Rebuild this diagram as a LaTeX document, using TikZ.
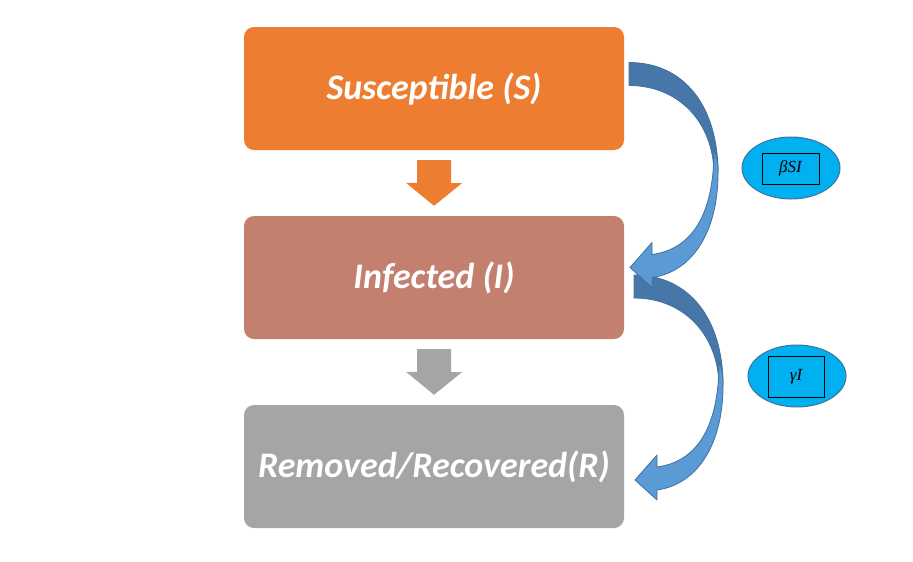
\documentclass[tikz,border=0pt]{standalone}
\usepackage{fontspec}
\setmainfont{Carlito}
\newfontfamily\ratefont{Liberation Serif}
\usetikzlibrary{shapes.geometric,calc}
\definecolor{sorange}{HTML}{ED7D31}
\definecolor{ibrown}{HTML}{C4806F}
\definecolor{rgrey}{HTML}{A5A5A5}
\definecolor{adark}{HTML}{4677A8}
\definecolor{alight}{HTML}{5B9BD5}
\definecolor{aedge}{HTML}{41719C}
\definecolor{ecyan}{HTML}{00B0F0}
\begin{document}
\begin{tikzpicture}[x=1pt,y=-1pt,
  box/.style={rounded corners=10pt, minimum width=380pt, minimum height=123pt, inner sep=0pt,
    font=\fontsize{36}{40}\selectfont\bfseries\itshape, text=white},
  darkband/.style={fill=adark, draw=aedge, line width=0.8pt, line join=round},
  lightband/.style={fill=alight, draw=aedge, line width=0.8pt, line join=round},
  rate/.style={ellipse, draw=aedge, fill=ecyan, line width=1pt, minimum width=98pt, minimum height=62pt},
  ratebox/.style={draw=black, line width=0.8pt, inner sep=0pt, font=\ratefont\itshape\fontsize{17}{19}\selectfont}
]
\useasboundingbox (0,0) rectangle (913,562);
\fill[white] (0,0) rectangle (913,562);

\node[box, fill=sorange] (S) at (434,88.5) {Susceptible (S)};
\node[box, fill=ibrown] (I) at (434,277.5) {Infected (I)};
\node[box, fill=rgrey] (R) at (434,466.5) {Removed/Recovered(R)};

% straight down arrows
\coordinate (a1) at ($(S.south)+(0,10)$);
\coordinate (t1) at ($(I.north)+(0,-10)$);
\coordinate (a2) at ($(I.south)+(0,10)$);
\coordinate (t2) at ($(R.north)+(0,-10)$);
\fill[sorange] (a1) ++(-17,0) -- ++(34,0) -- ++(0,23) -- ++(11,0) -- (t1) -- ++(-28,-23) -- ++(11,0) -- cycle;
\fill[rgrey] (a2) ++(-17,0) -- ++(34,0) -- ++(0,23) -- ++(11,0) -- (t2) -- ++(-28,-23) -- ++(11,0) -- cycle;

% curved arrow I -> R
\begin{scope}
\coordinate (c2s) at (634,275);
\coordinate (c2t) at (635,480);
\path[darkband] (c2s) .. controls (690,275) and (723,320) .. (723,385)
  -- (719,385) .. controls (718,335) and (684,298) .. (634,298) -- cycle;
\path[lightband] (719,362) .. controls (719,430) and (695,462) .. (657,467)
  -- (657,455) -- (c2t) -- (657,500) -- (657,490)
  .. controls (700,484) and (724,440) .. (723,382)
  .. controls (723,374) and (721,367) .. (719,362) -- cycle;
\end{scope}

% curved arrow S -> I
\begin{scope}[shift={(-5,-212.5)}]
\coordinate (c1s) at (634,275);
\coordinate (c1t) at (635,480);
\path[darkband] (c1s) .. controls (690,275) and (723,320) .. (723,385)
  -- (719,385) .. controls (718,335) and (684,298) .. (634,298) -- cycle;
\path[lightband] (719,362) .. controls (719,430) and (695,462) .. (657,467)
  -- (657,455) -- (c1t) -- (657,500) -- (657,490)
  .. controls (700,484) and (724,440) .. (723,382)
  .. controls (723,374) and (721,367) .. (719,362) -- cycle;
\end{scope}

% rate ellipses
\node[rate] (e1) at (791,168) {};
\node[ratebox, minimum width=57pt, minimum height=31pt] (b1) at (790.5,168.5) {βSI};
\node[rate] (e2) at (797,376) {};
\node[ratebox, minimum width=56pt, minimum height=41pt] (b2) at (796,376.5) {γI};
\end{tikzpicture}
\end{document}
